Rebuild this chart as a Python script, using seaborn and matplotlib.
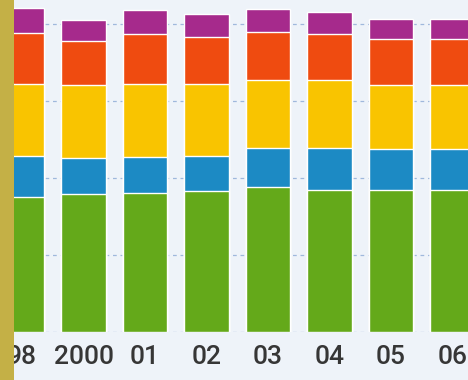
import matplotlib
matplotlib.use("Agg")
import matplotlib.pyplot as plt
import matplotlib.patches as mpatches
import seaborn as sns
import numpy as np
import pandas as pd

years = ["98", "2000", "01", "02", "03", "04", "05", "06"]
green  = [43.9, 44.7, 45.0, 45.8, 47.0, 46.1, 46.1, 46.1]
blue   = [13.2, 11.7, 11.9, 11.5, 12.7, 13.7, 13.3, 13.3]
yellow = [23.4, 23.8, 23.6, 23.3, 22.2, 22.0, 20.8, 20.8]
orange = [16.6, 14.4, 16.2, 15.2, 15.5, 14.8, 14.9, 14.9]
purple = [8.0, 6.7, 7.8, 7.5, 7.5, 7.2, 6.5, 6.5]

layers = [green, blue, yellow, orange, purple]
colors = ["#64a91a", "#1c8ac4", "#f9c400", "#ef4b10", "#a62a8c"]

sns.set_theme(style="white")
plt.rcParams["font.family"] = ["Roboto", "DejaVu Sans"]

bg = "#eef3f9"
fig = plt.figure(figsize=(4.68, 3.80), dpi=100, facecolor=bg)
ax = fig.add_axes([0, 48 / 380, 1, 332 / 380])
ax.set_facecolor(bg)

cum = np.cumsum(np.array(layers), axis=0)
for k in range(len(layers) - 1, -1, -1):
    df = pd.DataFrame({"year": years, "value": cum[k]})
    sns.barplot(data=df, x="year", y="value", order=years, color=colors[k],
                saturation=1, width=0.73, edgecolor="white", linewidth=1.0,
                ax=ax, zorder=2)

ax.set_xlim(-0.358, 7.252)
ax.set_ylim(0, 107.8)
ax.set_yticks([0, 25, 50, 75, 100])
ax.yaxis.grid(True, color="#9fb8dc", linestyle=(0, (3, 3)), linewidth=0.9, zorder=0)
ax.set_axisbelow(True)
ax.tick_params(axis="y", left=False, labelleft=False)
ax.tick_params(axis="x", length=0, pad=9, labelsize=19, labelcolor="#363636")
for lbl in ax.get_xticklabels():
    lbl.set_fontweight("medium")
ax.set_xlabel("")
ax.set_ylabel("")
for s in ax.spines.values():
    s.set_visible(False)

fig.patches.append(mpatches.Rectangle((0, 0), 14 / 468, 1, transform=fig.transFigure,
                                      facecolor="#c4b046", edgecolor="none", zorder=10))

fig.savefig("out.png", dpi=100, facecolor=bg)
